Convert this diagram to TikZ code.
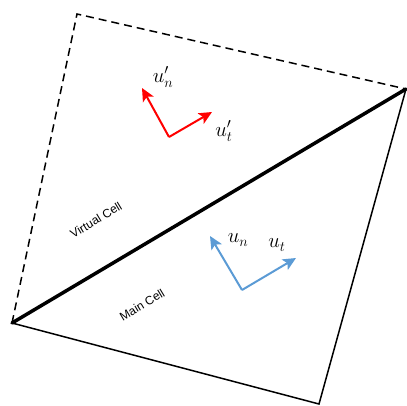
\documentclass[tikz,border=0pt]{standalone}
\usepackage{fontspec}
\setsansfont{Liberation Sans}
\usetikzlibrary{arrows.meta}
\definecolor{vblue}{HTML}{5B9BD5}
\definecolor{vred}{HTML}{FF0000}
\begin{document}
\begin{tikzpicture}[x=1pt,y=-1pt,
  edge/.style={line width=1.5pt},
  dashedge/.style={line width=1.5pt,dash pattern=on 8pt off 5pt},
  faceedge/.style={line width=3.5pt},
  vec/.style={line width=2pt,-{Stealth[length=13pt,width=12pt,inset=3pt]}},
  lbl/.style={font=\sffamily\fontsize{12}{14}\selectfont,rotate=31,inner sep=0pt},
  ulbl/.style={font=\fontsize{22}{24}\selectfont,inner sep=0pt}]
\useasboundingbox (0,0) rectangle (407,405);
\coordinate (A) at (12,323);
\coordinate (B) at (406,89);
\coordinate (C) at (77,14);
\coordinate (D) at (319,404);
\draw[dashedge] (A) -- (C) -- (B);
\draw[edge] (A) -- (D) -- (B);
\draw[faceedge,line cap=round] (A) -- (B);
% red vectors
\coordinate (ro) at (169,137);
\coordinate (rn) at (142,88);
\coordinate (rt) at (212,112);
\draw[vec,vred] (ro) -- (rn);
\draw[vec,vred] (ro) -- (rt);
\node[ulbl] (lrn) at (163,77) {$u'_{n}$};
\node[ulbl] (lrt) at (224,131) {$u'_{t}$};
% blue vectors
\coordinate (bo) at (242,290);
\coordinate (bn) at (210,236);
\coordinate (bt) at (296,258);
\draw[vec,vblue] (bo) -- (bn);
\draw[vec,vblue] (bo) -- (bt);
\node[ulbl] (lbn) at (238,240) {$u_{n}$};
\node[ulbl] (lbt) at (277,245) {$u_{t}$};
% labels
\node[lbl] (vc) at (96,220) {Virtual Cell};
\node[lbl] (mc) at (142,305) {Main Cell};
\end{tikzpicture}
\end{document}
